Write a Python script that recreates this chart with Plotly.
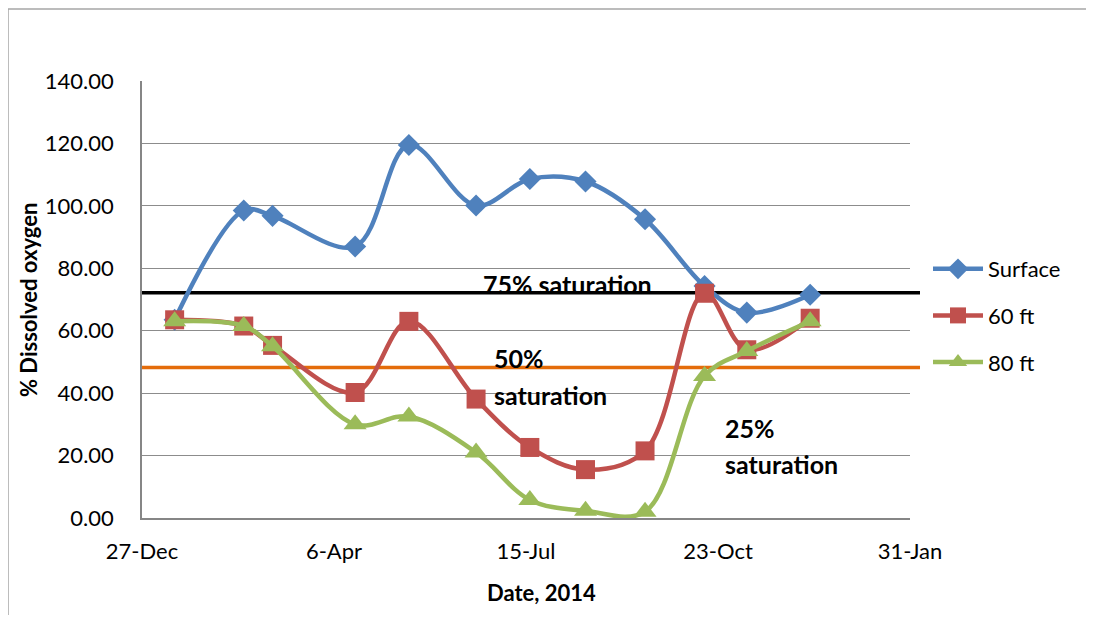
import plotly.graph_objects as go

# ---- data ----
dates = ["2014-01-13", "2014-02-18", "2014-03-05", "2014-04-17", "2014-05-15",
         "2014-06-19", "2014-07-17", "2014-08-15", "2014-09-15", "2014-10-16",
         "2014-11-07", "2014-12-10"]
surface = [63.5, 98.5, 96.8, 87.0, 119.5, 100.1, 108.6, 107.8, 95.7, 74.3, 65.8, 71.5]
ft60 = [63.5, 61.5, 55.3, 40.2, 63.0, 38.1, 22.6, 15.5, 21.5, 72.0, 53.9, 64.0]
ft80 = [63.0, 61.5, 55.0, 30.0, 32.5, 21.0, 5.8, 2.3, 2.0, 45.5, 53.5, 63.0]
series_names = ["Surface", "60 ft", "80 ft"]
sat_levels = [72.2, 48.2]          # 75% and 50% saturation reference lines
tick_dates = ["2013-12-27", "2014-04-06", "2014-07-15", "2014-10-23", "2015-01-31"]
tick_labels = ["27-Dec", "6-Apr", "15-Jul", "23-Oct", "31-Jan"]
y_ticks = [0, 20, 40, 60, 80, 100, 120, 140]

# page has an 8px body margin; figure sized to fit the window
OFF = 8
W, H = 1094 - 2 * OFF, 623 - 2 * OFF
Ls, Rs, Ts, Bs = 142, 910, 81, 518   # plot area in screen pixels


def px(x):
    return (x - Ls) / (Rs - Ls)


def py(y):
    return (Bs - y) / (Bs - Ts)


FONT = "Lato"
colors = ["#4F81BD", "#C0504D", "#9BBB59"]
symbols = ["diamond", "square", "triangle-up"]
msizes = [17, 19, 20]

fig = go.Figure()
for i, (name, vals) in enumerate(zip(series_names, [surface, ft60, ft80])):
    fig.add_trace(go.Scatter(
        x=dates, y=vals, name=name, mode="lines+markers",
        line=dict(color=colors[i], width=4.5, shape="spline", smoothing=1.0),
        marker=dict(symbol=symbols[i], size=msizes[i], color=colors[i]),
        cliponaxis=False, legendgroup=name,
    ))

# saturation reference lines
for lvl, col in zip(sat_levels, ["#000000", "#E46C0A"]):
    fig.add_shape(type="line", xref="paper", yref="y", x0=px(142), x1=px(920),
                  y0=lvl, y1=lvl, line=dict(color=col, width=3.5), layer="below")

# chart border
fig.add_shape(type="rect", xref="paper", yref="paper",
              x0=px(8), x1=px(1110), y0=py(9), y1=py(640),
              line=dict(color="#A6A6A6", width=1.5), layer="below")

ann_font = dict(family=FONT, size=25, color="#000000")
anns = [
    ("<b>75% saturation</b>", 481, 284),
    ("<b>50%</b>", 492, 358),
    ("<b>saturation</b>", 492, 395),
    ("<b>25%</b>", 723, 428),
    ("<b>saturation</b>", 723, 464),
]
for text, x, y in anns:
    fig.add_annotation(text=text, xref="paper", yref="paper", x=px(x), y=py(y),
                       xanchor="left", yanchor="middle", showarrow=False, font=ann_font)

# axis titles
fig.add_annotation(text="<b>Date, 2014</b>", xref="paper", yref="paper",
                   x=px(541), y=py(592), xanchor="center", yanchor="middle",
                   showarrow=False, font=dict(family=FONT, size=22))
fig.add_annotation(text="<b>% Dissolved oxygen</b>", xref="paper", yref="paper",
                   x=px(28), y=py(300), xanchor="center", yanchor="middle",
                   textangle=-90, showarrow=False, font=dict(family=FONT, size=22))

fig.update_layout(
    width=W, height=H,
    margin=dict(l=Ls - OFF, r=(W + OFF) - Rs, t=Ts - OFF, b=(H + OFF) - Bs, pad=0),
    paper_bgcolor="white", plot_bgcolor="white",
    font=dict(family=FONT, size=22, color="#000000"),
    showlegend=True,
    legend=dict(x=px(928), y=py(248), xanchor="left", yanchor="top",
                font=dict(family=FONT, size=22), itemwidth=50,
                tracegroupgap=15, bgcolor="rgba(0,0,0,0)"),
    xaxis=dict(
        type="date", range=[tick_dates[0], tick_dates[-1]],
        tickvals=tick_dates, ticktext=tick_labels,
        showgrid=False, showline=True, linecolor="#868686", linewidth=1.5,
        ticks="", ticklabelstandoff=13, tickfont=dict(family=FONT, size=22),
        zeroline=False,
    ),
    yaxis=dict(
        range=[0, 140], tickvals=y_ticks, tickformat=".2f",
        showgrid=True, gridcolor="#8C8C8C", gridwidth=1.3,
        showline=True, linecolor="#868686", linewidth=1.5,
        ticks="", ticklabelstandoff=22, tickfont=dict(family=FONT, size=22),
        zeroline=False,
    ),
)

fig.write_html("out.html")
